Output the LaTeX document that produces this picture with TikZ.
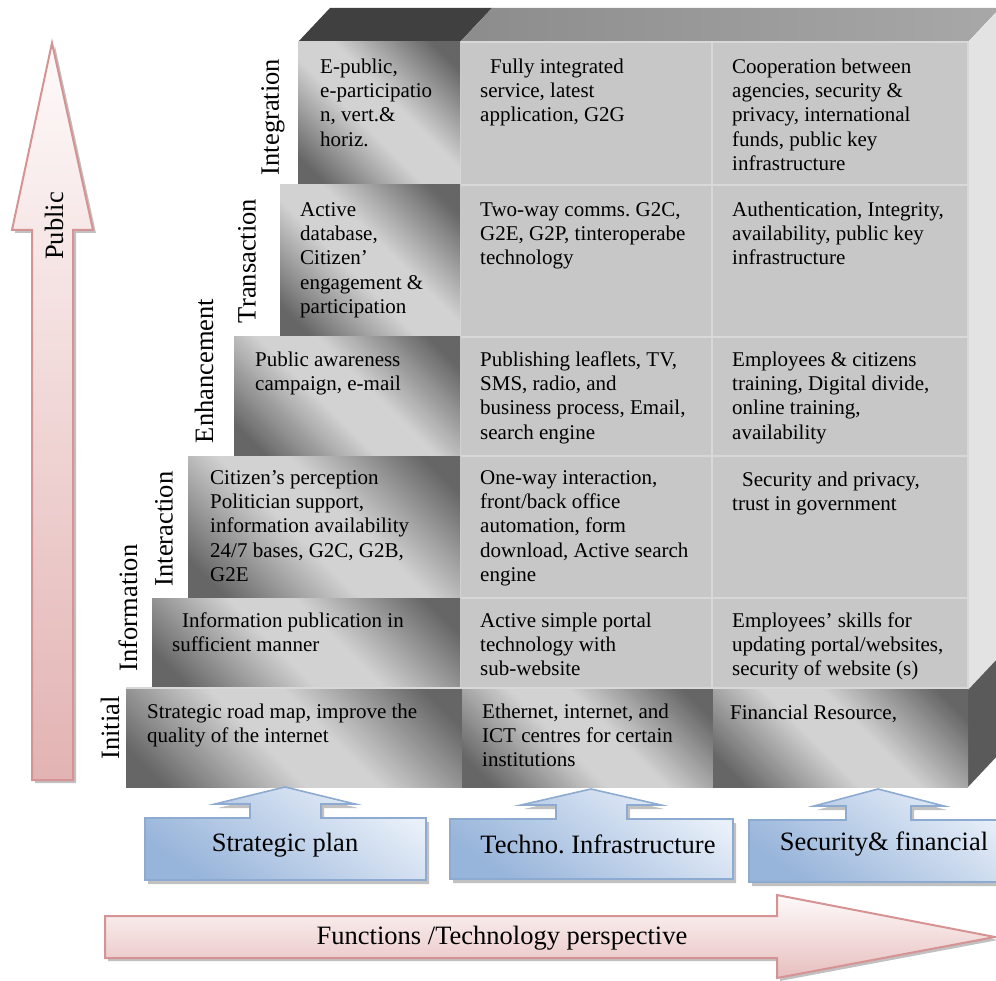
\documentclass[tikz,border=0pt]{standalone}
\usepackage{fontspec}
\setmainfont{Liberation Serif}
\usetikzlibrary{shadows}
\definecolor{topdark}{HTML}{404040}
\definecolor{topa}{HTML}{8C8C8C}
\definecolor{topb}{HTML}{A8A8A8}
\definecolor{flat}{HTML}{C7C7C7}
\definecolor{cellline}{HTML}{D8D8D8}
\definecolor{rface}{HTML}{E3E3E3}
\definecolor{rdark}{HTML}{5A5A5A}
\definecolor{gdark}{HTML}{666666}
\definecolor{glight}{HTML}{D2D2D2}
\definecolor{bluelight}{HTML}{E9F0F9}
\definecolor{bluedark}{HTML}{97B4DA}
\definecolor{blueline}{HTML}{8DAAD1}
\definecolor{pinklight}{HTML}{FEFAFA}
\definecolor{pinkdark}{HTML}{E3B3B3}
\definecolor{pinkline}{HTML}{D69393}
\pgfdeclareverticalshading{cellshade}{100bp}{color(0bp)=(gdark); color(21bp)=(gdark); color(44bp)=(glight); color(56bp)=(glight); color(79bp)=(gdark); color(100bp)=(gdark)}
\tikzset{
  celltext/.style={anchor=north west, inner sep=0pt, align=left, font=\fontsize{21}{24.3}\selectfont},
  rowlabel/.style={rotate=90, inner sep=0pt, font=\fontsize{26.5}{30}\selectfont},
  bigtext/.style={inner sep=0pt, font=\fontsize{26.5}{30}\selectfont},
  gcell/.style={shading=cellshade, shading angle=-45},
  fcell/.style={fill=flat, draw=cellline, line width=1.2pt},
  callout/.style={draw=blueline, line width=1.6pt, top color=bluelight, bottom color=bluedark, shading angle=-35,
     drop shadow={shadow xshift=3pt, shadow yshift=-4pt, fill=gray!70, opacity=0.7}},
  pinkarrow/.style={draw=pinkline, line width=2pt,
     drop shadow={shadow xshift=3pt, shadow yshift=-3pt, fill=gray!70, opacity=0.7}}
}
\begin{document}
\frenchspacing
\begin{tikzpicture}[x=1pt,y=-1pt]
\useasboundingbox (0,0) rectangle (996,981);
% top face
\fill[topdark] (298,42) -- (330,8) -- (492,8) -- (460,42) -- cycle;
\shade[left color=topa, right color=topb] (460,42) -- (492,8) -- (1000,8) -- (968,42) -- cycle;
% right face
\fill[rface] (968,42) -- (1000,8) -- (1000,656) -- (968,690) -- cycle;
\fill[rdark] (968,690) -- (1000,656) -- (1000,753) -- (968,787) -- cycle;
% flat cells
\foreach \ya/\yb in {42/185,185/337,337/456,456/598,598/688}{
  \draw[fcell] (460,\ya) rectangle (712,\yb);
  \draw[fcell] (712,\ya) rectangle (968,\yb);
}
% left gradient cells
\shade[gcell] (298,42) rectangle (460,185);
\shade[gcell] (280,185) rectangle (460,337);
\shade[gcell] (234,337) rectangle (460,456);
\shade[gcell] (188,456) rectangle (460,598);
\shade[gcell] (152,598) rectangle (460,688);
% initial row
\shade[gcell] (126,688) rectangle (462,787);
\shade[gcell] (462,688) rectangle (713,787);
\shade[gcell] (713,688) rectangle (968,787);
\draw[cellline, line width=1.2pt] (126,688) -- (968,688);

% cell texts
\node[celltext] (t11) at (320,56) {\strut E-public,\\e-participatio\\n, vert.\&\\horiz.};
\node[celltext] (t12) at (480,56) {\strut\hspace*{10pt}Fully integrated\\service, latest\\application, G2G};
\node[celltext] (t13) at (732,56) {\strut Cooperation between\\agencies, security \&\\privacy, international\\funds, public key\\infrastructure};
\node[celltext] (t21) at (300,199) {\strut Active\\database,\\Citizen’\\engagement \&\\participation};
\node[celltext] (t22) at (480,199) {\strut Two-way comms. G2C,\\G2E, G2P, tinteroperabe\\technology};
\node[celltext] (t23) at (732,199) {\strut Authentication, Integrity,\\availability, public key\\infrastructure};
\node[celltext] (t31) at (255,349) {\strut Public awareness\\campaign, e-mail};
\node[celltext] (t32) at (480,349) {\strut Publishing leaflets, TV,\\SMS, radio, and\\business process, Email,\\search engine};
\node[celltext] (t33) at (732,349) {\strut Employees \& citizens\\training, Digital divide,\\online training,\\availability};
\node[celltext] (t41) at (210,467) {\strut Citizen’s perception\\Politician support,\\information availability\\24/7 bases, G2C, G2B,\\G2E};
\node[celltext] (t42) at (480,467) {\strut One-way interaction,\\front/back office\\automation, form\\download, Active search\\engine};
\node[celltext] (t43) at (732,469) {\strut\hspace*{10pt}Security and privacy,\\trust in government};
\node[celltext] (t51) at (172,610) {\strut\hspace*{10pt}Information publication in\\sufficient manner};
\node[celltext] (t52) at (480,610) {\strut Active simple portal\\technology with\\sub-website};
\node[celltext] (t53) at (732,610) {\strut Employees’ skills for\\updating portal/websites,\\security of website (s)};
\node[celltext] (t61) at (147,701) {\strut Strategic road map, improve the\\quality of the internet};
\node[celltext] (t62) at (482,701) {\strut Ethernet, internet, and\\ICT centres for certain\\institutions};
\node[celltext] (t63) at (730,702) {\strut Financial Resource,};

% row labels
\node[rowlabel] (l1) at (273,117) {Integration};
\node[rowlabel] (l2) at (247,261) {Transaction};
\node[rowlabel] (l3) at (204,371) {Enhancement};
\node[rowlabel] (l4) at (164,529) {Interaction};
\node[rowlabel] (l5) at (128,608) {Information};
\node[rowlabel] (l6) at (110,728) {Initial};

% vertical Public arrow
\path[pinkarrow, top color=pinklight, bottom color=pinkdark]
  (32,780) -- (32,230) -- (12,230) -- (52,43) -- (93,230) -- (73,230) -- (73,780) -- cycle;
\node[rowlabel] (pub) at (54,226) {Public};

% bottom callouts
\path[callout] (145,880) -- (145,818) -- (250,818) -- (250,804) -- (215,804) -- (285,787)
  -- (355,804) -- (321,804) -- (321,818) -- (426,818) -- (426,880) -- cycle;
\node[bigtext] (b1) at (285,845) {Strategic plan};
\path[callout] (450,879) -- (450,819) -- (556,819) -- (556,805) -- (521,805) -- (591,789)
  -- (661,805) -- (627,805) -- (627,819) -- (733,819) -- (733,879) -- cycle;
\node[bigtext] (b2) at (598,844) {Techno. Infrastructure};
\path[callout] (749,882) -- (749,820) -- (846,820) -- (846,806) -- (814,806) -- (878,789)
  -- (944,806) -- (911,806) -- (911,820) -- (1012,820) -- (1012,882) -- cycle;
\node[bigtext] (b3) at (884,844) {Security\& financial};

% horizontal arrow
\path[pinkarrow, top color=pinklight, bottom color=pinkdark!85!white]
  (105,916) -- (777,916) -- (777,895) -- (995,937) -- (777,978) -- (777,958) -- (105,958) -- cycle;
\node[bigtext] (fn) at (502,938) {Functions /Technology perspective};
\end{tikzpicture}
\end{document}
